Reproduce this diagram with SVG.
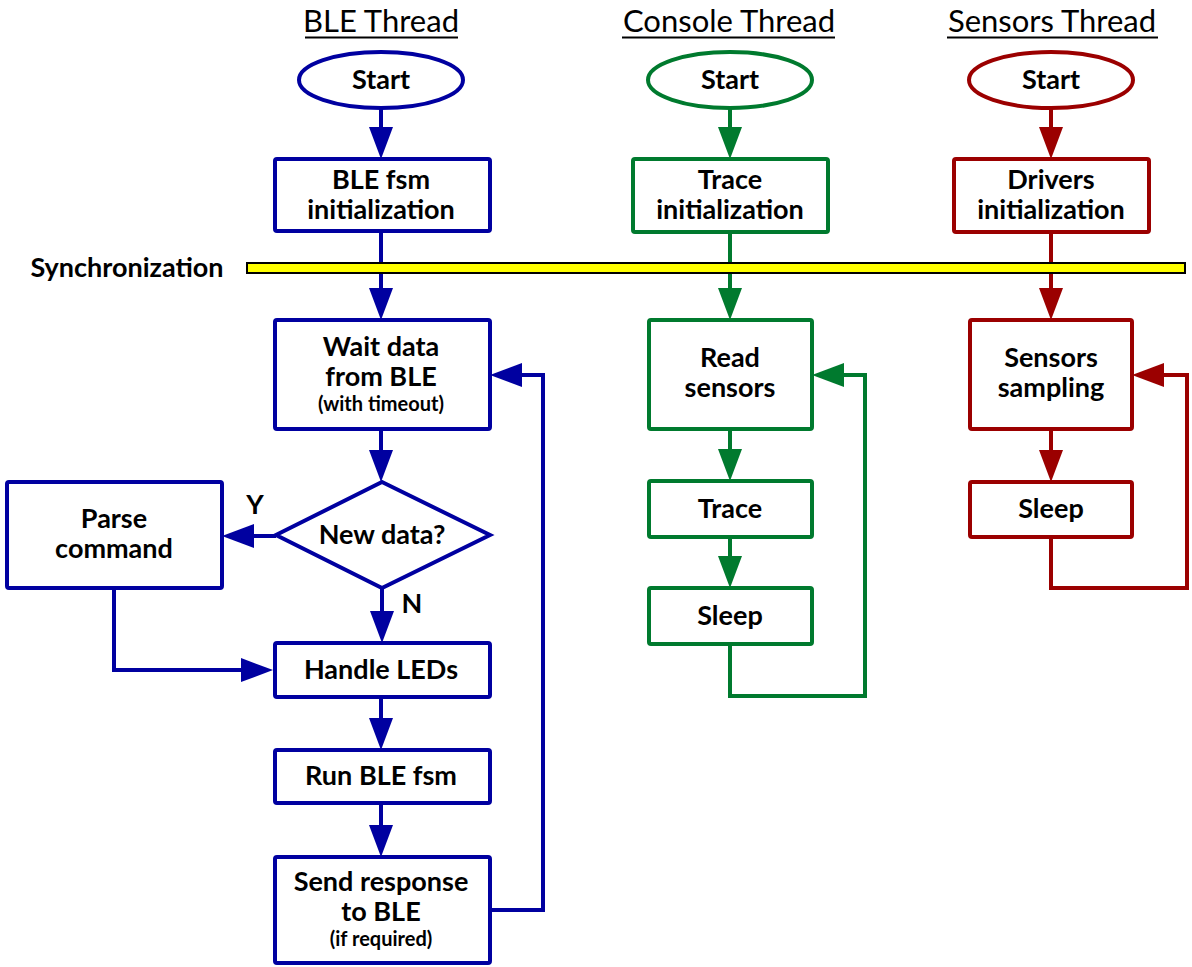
<svg xmlns="http://www.w3.org/2000/svg" width="1192" height="967" viewBox="0 0 1192 967">
<defs>
<style>
.t{font-family:Lato,"Liberation Sans",sans-serif;font-weight:bold;font-size:27px;fill:#000;text-anchor:middle}
.s{font-size:20px}
.h{font-family:Lato,"Liberation Sans",sans-serif;font-weight:normal;font-size:31px;fill:#000;text-anchor:middle}
.ul{stroke:#000;stroke-width:2}
.b{fill:#fff;stroke:#0000a0;stroke-width:4}
.g{fill:#fff;stroke:#007a2e;stroke-width:4}
.r{fill:#fff;stroke:#9b0000;stroke-width:4}
.cb{fill:none;stroke:#0000a0;stroke-width:4;marker-end:url(#ab)}
.cg{fill:none;stroke:#007a2e;stroke-width:4;marker-end:url(#ag)}
.cr{fill:none;stroke:#9b0000;stroke-width:4;marker-end:url(#ar)}
</style>
<marker id="ab" markerUnits="userSpaceOnUse" markerWidth="32" markerHeight="24" refX="16" refY="12" orient="auto"><path d="M0,0L32,12L0,24z" fill="#0000a0"/></marker>
<marker id="ag" markerUnits="userSpaceOnUse" markerWidth="32" markerHeight="24" refX="16" refY="12" orient="auto"><path d="M0,0L32,12L0,24z" fill="#007a2e"/></marker>
<marker id="ar" markerUnits="userSpaceOnUse" markerWidth="32" markerHeight="24" refX="16" refY="12" orient="auto"><path d="M0,0L32,12L0,24z" fill="#9b0000"/></marker>
</defs>
<rect width="1192" height="967" fill="#fff"/>

<g id="titles">
<text class="h" x="381" y="32">BLE Thread</text>
<line class="ul" x1="305" y1="37.5" x2="458" y2="37.5"/>
<text class="h" x="729" y="32">Console Thread</text>
<line class="ul" x1="622" y1="37.5" x2="835" y2="37.5"/>
<text class="h" x="1052" y="32">Sensors Thread</text>
<line class="ul" x1="947" y1="37.5" x2="1158" y2="37.5"/>
</g>

<g id="connectors">
<path class="cb" d="M381,108V143"/>
<path class="cb" d="M381,231V304"/>
<path class="cb" d="M381,429V466"/>
<path class="cb" d="M382,588V627"/>
<path class="cb" d="M276,536H238"/>
<path class="cb" d="M114,588V670H257"/>
<path class="cb" d="M381,697V734"/>
<path class="cb" d="M381,803V841"/>
<path class="cb" d="M490,910H543V375H506"/>
<path class="cg" d="M730,108V143"/>
<path class="cg" d="M730,232V304"/>
<path class="cg" d="M730,429V465"/>
<path class="cg" d="M730,537V572"/>
<path class="cg" d="M730,644V696H865V375H828"/>
<path class="cr" d="M1051,108V143"/>
<path class="cr" d="M1051,232V304"/>
<path class="cr" d="M1051,429V466"/>
<path class="cr" d="M1051,537V588H1187V375H1148"/>
</g>

<g id="sync">
<rect x="247" y="263" width="938" height="10" fill="#ffff00" stroke="#000" stroke-width="2"/>
<text class="t" x="127" y="277">Synchronization</text>
</g>

<g id="ble-start"><ellipse class="b" cx="381" cy="80" rx="82" ry="28"/><text class="t" x="381" y="89">Start</text></g>
<g id="ble-init"><rect class="b" x="275" y="159" width="215" height="72" rx="2"/><text class="t" x="381" y="189">BLE fsm</text><text class="t" x="381" y="219">initialization</text></g>
<g id="ble-wait"><rect class="b" x="275" y="320" width="215" height="109" rx="2"/><text class="t" x="381" y="356">Wait data</text><text class="t" x="381" y="386">from BLE</text><text class="t s" x="381" y="411">(with timeout)</text></g>
<g id="ble-newdata"><path class="b" d="M382,482L490,535L382,588L276,535Z"/><text class="t" x="382" y="544">New data?</text></g>
<g id="ble-y"><text class="t" x="255" y="514">Y</text></g>
<g id="ble-n"><text class="t" x="412" y="613">N</text></g>
<g id="ble-parse"><rect class="b" x="7" y="482" width="215" height="106" rx="2"/><text class="t" x="114" y="528">Parse</text><text class="t" x="114" y="558">command</text></g>
<g id="ble-leds"><rect class="b" x="275" y="643" width="215" height="54" rx="2"/><text class="t" x="381" y="679">Handle LEDs</text></g>
<g id="ble-run"><rect class="b" x="275" y="750" width="215" height="53" rx="2"/><text class="t" x="381" y="785">Run BLE fsm</text></g>
<g id="ble-send"><rect class="b" x="275" y="857" width="215" height="106" rx="2"/><text class="t" x="381" y="891">Send response</text><text class="t" x="381" y="921">to BLE</text><text class="t s" x="381" y="946">(if required)</text></g>

<g id="con-start"><ellipse class="g" cx="730" cy="80" rx="82" ry="28"/><text class="t" x="730" y="89">Start</text></g>
<g id="con-init"><rect class="g" x="633" y="159" width="195" height="73" rx="2"/><text class="t" x="730" y="189">Trace</text><text class="t" x="730" y="219">initialization</text></g>
<g id="con-read"><rect class="g" x="649" y="320" width="163" height="109" rx="2"/><text class="t" x="730" y="367">Read</text><text class="t" x="730" y="397">sensors</text></g>
<g id="con-trace"><rect class="g" x="649" y="481" width="163" height="56" rx="2"/><text class="t" x="730" y="518">Trace</text></g>
<g id="con-sleep"><rect class="g" x="649" y="588" width="163" height="56" rx="2"/><text class="t" x="730" y="625">Sleep</text></g>

<g id="sen-start"><ellipse class="r" cx="1051" cy="80" rx="82" ry="28"/><text class="t" x="1051" y="89">Start</text></g>
<g id="sen-init"><rect class="r" x="954" y="159" width="195" height="73" rx="2"/><text class="t" x="1051" y="189">Drivers</text><text class="t" x="1051" y="219">initialization</text></g>
<g id="sen-sampling"><rect class="r" x="970" y="320" width="162" height="109" rx="2"/><text class="t" x="1051" y="367">Sensors</text><text class="t" x="1051" y="397">sampling</text></g>
<g id="sen-sleep"><rect class="r" x="970" y="482" width="162" height="55" rx="2"/><text class="t" x="1051" y="518">Sleep</text></g>
</svg>
